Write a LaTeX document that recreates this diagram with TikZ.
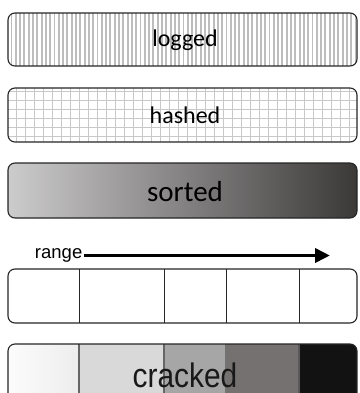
\documentclass[tikz,border=0pt]{standalone}
\usepackage{fontspec}
\setmainfont{Carlito}
\newfontfamily\arialf{Liberation Sans}
\usetikzlibrary{arrows.meta}
\definecolor{outl}{HTML}{262626}
\definecolor{stripe}{HTML}{BDBDBD}
\definecolor{gridc}{HTML}{C8C8C8}
\definecolor{sortL}{HTML}{CDCCCC}
\definecolor{sortM}{HTML}{B3B2B2}
\definecolor{sortR}{HTML}{3B3838}
\definecolor{crA}{HTML}{FCFCFC}
\definecolor{crB}{HTML}{EDEDED}
\definecolor{crC}{HTML}{D9D9D9}
\definecolor{crD}{HTML}{A6A6A6}
\definecolor{crE}{HTML}{767171}
\definecolor{crF}{HTML}{121212}
\begin{document}
\begin{tikzpicture}[x=1pt,y=-1pt,
  box/.style={draw=outl, line width=1.1pt, rounded corners=7pt},
  calib/.style={font=\fontsize{24}{24}\selectfont, text=black, inner sep=0pt, anchor=base},
  arl/.style={font=\arialf\fontsize{#1}{#1}\selectfont, text=black},
  divider/.style={draw=outl, line width=1pt},
  crdiv/.style={draw=#1, line width=1.2pt},
  arr/.style={line width=3.6pt, -{Triangle[length=15pt,width=14pt]}}]
\clip (0,0) rectangle (359,393);
\fill[white] (0,0) rectangle (359,393);

% logged
\begin{scope}
  \clip[rounded corners=7pt] (8,13) rectangle (357,66);
  \foreach \x in {10.5,14.8,...,358} \fill[stripe] (\x,13) rectangle ++(1.9,53);
\end{scope}
\draw[box] (8,13) rectangle (357,66);
\node[calib] (logged) at (185,47) {logged};

% hashed
\begin{scope}
  \clip[rounded corners=7pt] (8,88) rectangle (357,142);
  \foreach \x in {16.7,25.7,...,358} \draw[gridc, line width=0.8pt] (\x,88) -- (\x,142);
  \foreach \y in {91,100,...,142} \draw[gridc, line width=0.8pt] (8,\y) -- (357,\y);
\end{scope}
\draw[box] (8,88) rectangle (357,142);
\node[calib] (hashed) at (185,124) {hashed};

% sorted
\shade[rounded corners=7pt, left color=sortL, middle color=sortM, right color=sortR] (8,163) rectangle (357,218);
\draw[box] (8,163) rectangle (357,218);
\node[calib, font=\fontsize{29}{29}\selectfont] (sorted) at (185,201.5) {sorted};

% range arrow
\node[arl=18.5, anchor=east, inner sep=1.5pt] (range) at (84,255.5) {range};
\coordinate (rangeend) at (330,255.5);
\draw[arr] (range.east) -- (rangeend);

% empty partitioned box
\draw[box] (8,269) rectangle (357,323);
\foreach \x/\n in {79/a,164/b,226/c,299/d} \draw[divider] (\x,269) -- (\x,323);

% cracked
\begin{scope}
  \clip[rounded corners=7pt] (8,344) rectangle (357,400);
  \shade[left color=crA, right color=crB] (8,344) rectangle (79,400);
  \fill[crC] (79,344) rectangle (164,400);
  \fill[crD] (164,344) rectangle (226,400);
  \fill[crE] (226,344) rectangle (299,400);
  \fill[crF] (299,344) rectangle (357,400);
  \draw[crdiv=gray!80!black] (79,344) -- (79,400);
  \draw[crdiv=black!60] (164,344) -- (164,400);
  \draw[crdiv=black!55] (226,344) -- (226,400);
  \draw[crdiv=black!65] (299,344) -- (299,400);
\end{scope}
\draw[box] (8,344) rectangle (357,400);
\node[arl=34, anchor=base, inner sep=0pt, text=black!90, xscale=0.88] (cracked) at (185,387) {cracked};
\end{tikzpicture}
\end{document}
